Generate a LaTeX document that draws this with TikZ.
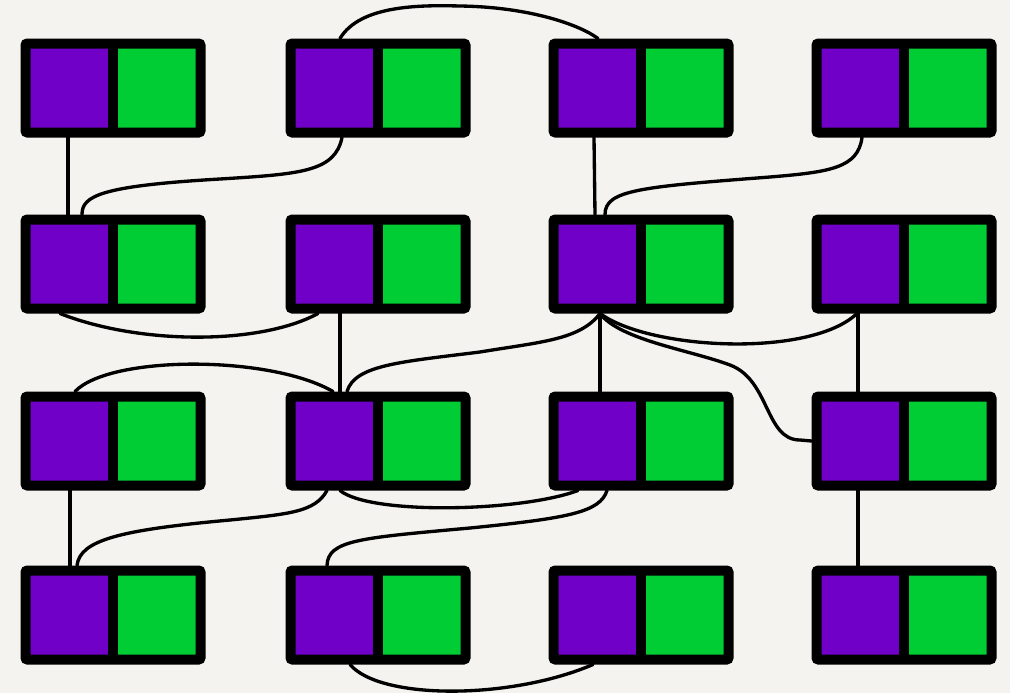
\documentclass[tikz,border=0pt]{standalone}
\usetikzlibrary{calc,backgrounds}
\definecolor{bgc}{RGB}{244,243,239}
\definecolor{pur}{RGB}{112,0,200}
\definecolor{grn}{RGB}{0,204,51}
\tikzset{
  box/.style={draw=black, line width=7.5pt, rounded corners=1.5pt, inner sep=0pt,
    minimum width=131.25pt, minimum height=66.75pt,
    path picture={
      \fill[pur] (path picture bounding box.south west) rectangle (path picture bounding box.north);
      \fill[grn] (path picture bounding box.south) rectangle (path picture bounding box.north east);
      \draw[line width=7pt] (path picture bounding box.south) -- (path picture bounding box.north);
    }},
  wire/.style={draw=black, line width=2.5pt, line cap=round}
}
\begin{document}
\begin{tikzpicture}[x=0.75pt,y=-0.75pt]
\useasboundingbox (0,0) rectangle (1010,693);
% boxes
\node[box] (b11) at (113,88) {};
\node[box] (b12) at (378,88) {};
\node[box] (b13) at (641,88) {};
\node[box] (b14) at (904,88) {};
\node[box] (b21) at (113,264) {};
\node[box] (b22) at (378,264) {};
\node[box] (b23) at (641,264) {};
\node[box] (b24) at (904,264) {};
\node[box] (b31) at (113,441) {};
\node[box] (b32) at (378,441) {};
\node[box] (b33) at (641,441) {};
\node[box] (b34) at (904,441) {};
\node[box] (b41) at (113,615) {};
\node[box] (b42) at (378,615) {};
\node[box] (b43) at (641,615) {};
\node[box] (b44) at (904,615) {};
\begin{scope}[on background layer]
\fill[bgc] (0,0) rectangle (1010,693);
% connectors
\draw[wire] ($(b11.south)+(-45,0)$) -- ($(b21.north)+(-45,0)$);
\draw[wire] ($(b12.south)+(-36,0)$) .. controls (335,172) and (300,174) .. (220,179)
   .. controls (100,186) and (82,196) .. ($(b21.north)+(-31,0)$);
\draw[wire] ($(b12.north)+(-38,0)$) .. controls (360,5) and (420,5) .. (460,6)
   .. controls (530,7) and (580,25) .. ($(b13.north)+(-43,0)$);
\draw[wire] ($(b13.south)+(-47,0)$) -- ($(b23.north)+(-46,0)$);
\draw[wire] ($(b14.south)+(-42,0)$) .. controls (858,168) and (830,172) .. (770,177)
   .. controls (640,187) and (605,190) .. ($(b23.north)+(-36,0)$);
\draw[wire] ($(b21.south)+(-53,0)$) .. controls (140,345) and (260,345) .. ($(b22.south)+(-60,0)$);
\draw[wire] ($(b22.south)+(-38,0)$) -- ($(b32.north)+(-38,0)$);
% hub under b23
\draw[wire] ($(b23.south)+(-41,0)$) .. controls (580,340) and (540,342) .. (480,352)
   .. controls (400,362) and (355,365) .. ($(b32.north)+(-31,0)$);
\draw[wire] ($(b23.south)+(-41,0)$) -- ($(b33.north)+(-41,0)$);
\draw[wire] ($(b23.south)+(-41,0)$) .. controls (650,350) and (810,358) .. ($(b24.south)+(-47,0)$);
\draw[wire] ($(b23.south)+(-41,0)$) .. controls (620,340) and (690,350) .. (730,365)
   .. controls (770,380) and (765,440) .. (800,440) -- (b34.west);
\draw[wire] ($(b24.south)+(-46,0)$) -- ($(b34.north)+(-46,0)$);
\draw[wire] ($(b31.north)+(-38,0)$) .. controls (110,355) and (270,355) .. ($(b32.north)+(-45,0)$);
\draw[wire] ($(b31.south)+(-43,0)$) -- ($(b41.north)+(-43,0)$);
\draw[wire] ($(b32.south)+(-51,0)$) .. controls (315,512) and (290,514) .. (230,520)
   .. controls (120,530) and (80,540) .. ($(b41.north)+(-36,0)$);
\draw[wire] ($(b32.south)+(-38,0)$) .. controls (370,515) and (520,512) .. ($(b33.south)+(-63,0)$);
\draw[wire] ($(b33.south)+(-34,0)$) .. controls (600,512) and (570,518) .. (470,528)
   .. controls (360,538) and (328,540) .. ($(b42.north)+(-51,0)$);
\draw[wire] ($(b42.south)+(-28,0)$) .. controls (380,700) and (510,700) .. ($(b43.south)+(-48,0)$);
\draw[wire] ($(b34.south)+(-46,0)$) -- ($(b44.north)+(-46,0)$);
\end{scope}
\end{tikzpicture}
\end{document}
